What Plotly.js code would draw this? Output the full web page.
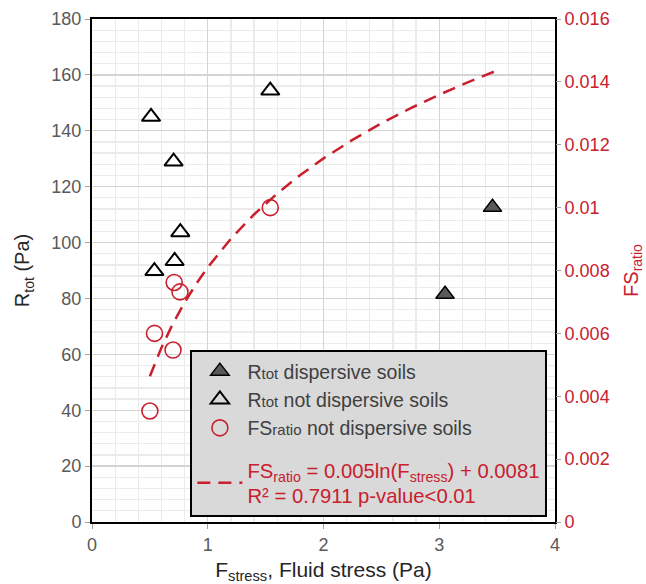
<!DOCTYPE html>
<html><head><meta charset="utf-8">
<script src="https://cdn.plot.ly/plotly-3.0.1.min.js"></script>
<style>html,body{margin:0;padding:0;background:#fff}</style>
</head><body>
<div id="chart" style="width:646px;height:584px"></div>
<script>
// Rtot, dispersive soils
const dispX = [3.05, 3.46];
const dispR = [81.5, 112.6];
// Rtot, not dispersive soils
const notDispX = [0.51, 0.705, 0.763, 0.714, 0.539, 1.54];
const notDispR = [145, 129, 103.7, 93.4, 89.8, 154.4];
// FSratio, not dispersive soils
const fsX = [0.50, 0.54, 0.70, 0.71, 0.76, 1.54];
const fsY = [0.00353, 0.0060, 0.00547, 0.00762, 0.00732, 0.0100];
// Trend line FSratio = a ln(F) + b (from chart equation)
const trendA = 0.005, trendB = 0.0081;
const trendX = [0.5,0.55,0.6,0.7,0.8,0.9,1.0,1.2,1.4,1.6,1.8,2.0,2.25,2.5,2.75,3.0,3.25,3.5];
const trendY = trendX.map(v => trendA*Math.log(v) + trendB);

const red = '#c8202e';
const gray = '#595959';
const font = 'Liberation Sans, Arial, sans-serif';

const traces = [
  {x: dispX, y: dispR, type:'scatter', mode:'markers', name:'R<span style="font-size:15px">tot</span> dispersive soils',
   marker:{symbol:'triangle-up', size:16, color:'#595959', line:{color:'#000', width:1.5}}},
  {x: notDispX, y: notDispR, type:'scatter', mode:'markers', name:'R<span style="font-size:15px">tot</span> not dispersive soils',
   marker:{symbol:'triangle-up-open', size:16, color:'#000', line:{color:'#000', width:2}}},
  {x: fsX, y: fsY, type:'scatter', mode:'markers', yaxis:'y2', name:'FS<span style="font-size:15px">ratio</span> not dispersive soils',
   marker:{symbol:'circle-open', size:16, color:red, line:{color:red, width:1.6}}},
  {x: trendX, y: trendY, type:'scatter', mode:'lines', yaxis:'y2', legendgroup:'g2',
   name:'<span style="color:'+red+';font-size:20.3px">FS<sub>ratio</sub> = 0.005ln(F<sub>stress</sub>) + 0.0081<br>R² = 0.7911 p-value<0.01</span>',
   line:{color:red, width:2.5, dash:'13px,8px'}}
];
traces[0].legendgroup='g1';traces[1].legendgroup='g1';traces[2].legendgroup='g1';

const layout = {
  width:646, height:584,
  margin:{l:91.5, r:91, t:19, b:62},
  paper_bgcolor:'#fff', plot_bgcolor:'#fff',
  font:{family:font, size:18, color:gray},
  showlegend:true,
  legend:{x:0.2125, y:0.01, xanchor:'left', yanchor:'bottom', bgcolor:'#d9d9d9', bordercolor:'#000', borderwidth:2,
          font:{size:19.5, color:'#404040'}, traceorder:'grouped', tracegroupgap:14, itemwidth:45},
  xaxis:{range:[0,4], dtick:1, tick0:0, showgrid:true, gridcolor:'#d4d4d4', gridwidth:1.3,
         minor:{dtick:0.2, showgrid:true, gridcolor:'#ebebeb', gridwidth:1.3},
         showline:true, linecolor:'#000', linewidth:2, mirror:true, zeroline:false,
         ticks:'outside', ticklen:5, tickcolor:'#a0a0a0', tickfont:{size:18, color:gray},
         title:{text:'F<sub>stress</sub>, Fluid stress (Pa)', font:{size:21, color:'#262626'}, standoff:10}},
  yaxis:{range:[0,180], dtick:20, tick0:0, showgrid:true, gridcolor:'#d4d4d4', gridwidth:1.3,
         minor:{dtick:4, showgrid:true, gridcolor:'#ebebeb', gridwidth:1.3},
         showline:true, linecolor:'#000', linewidth:2, mirror:true, zeroline:false,
         ticks:'outside', ticklen:5, tickcolor:'#a0a0a0', tickfont:{size:18, color:gray},
         title:{text:'R<sub>tot</sub> (Pa)', font:{size:20, color:'#262626'}, standoff:16}},
  yaxis2:{range:[0,0.016], dtick:0.002, tick0:0, overlaying:'y', side:'right', showgrid:false, zeroline:false,
          ticks:'outside', ticklen:5, tickcolor:'#a0a0a0', tickfont:{size:18, color:red},
          title:{text:'FS<sub>ratio</sub>', font:{size:20, color:red}, standoff:15}}
};
Plotly.newPlot('chart', traces, layout, {displayModeBar:false, staticPlot:true});
</script>
</body></html>
